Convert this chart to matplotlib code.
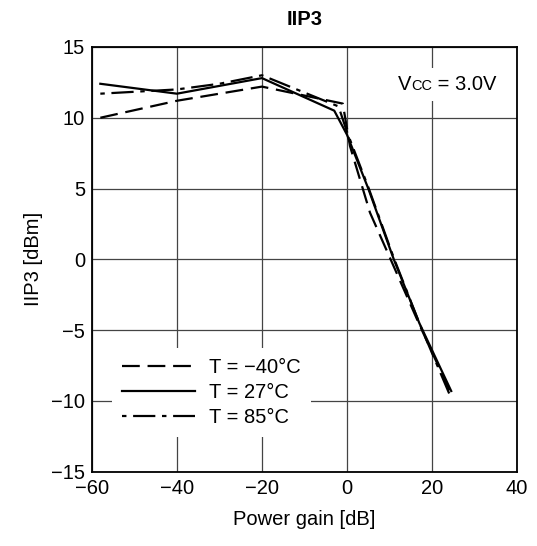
import matplotlib
import matplotlib.pyplot as plt
from matplotlib.offsetbox import TextArea, HPacker, AnchoredOffsetbox

matplotlib.use("Agg")

plt.rcParams["font.family"] = ["Liberation Sans", "DejaVu Sans"]
plt.rcParams["axes.unicode_minus"] = True

# 読み取った値
gain_m40 = [-58, -40, -20, -1, 0.7, 5.4, 10.4, 17, 24.8]
iip3_m40 = [10.0, 11.2, 12.2, 11.0, 8.0, 3.3, -0.1, -4.6, -9.7]

gain_27 = [-58, -40, -20, -3, 0, 5, 11, 17, 24.5]
iip3_27 = [12.4, 11.7, 12.8, 10.5, 8.8, 5.0, 0.0, -4.5, -9.3]

gain_85 = [-58, -40, -30, -20, -2, 0, 5, 11, 17, 24.2]
iip3_85 = [11.7, 12.0, 12.4, 13.0, 10.8, 9.0, 5.1, 0.1, -4.5, -9.6]

xticks = [-60, -40, -20, 0, 20, 40]
yticks = [-15, -10, -5, 0, 5, 10, 15]

FS = 14.5

fig = plt.figure(figsize=(5.37, 5.46), dpi=100)
ax = fig.add_axes([0.171, 0.136, 0.792, 0.778])

ax.plot(gain_m40, iip3_m40, color="black", lw=1.6, ls=(0, (8, 3.5)), label="T = \u221240\u00b0C")
ax.plot(gain_27, iip3_27, color="black", lw=1.6, ls="-", label="T = 27\u00b0C")
ax.plot(gain_85, iip3_85, color="black", lw=1.6, ls=(0, (2, 3, 10, 3)), label="T = 85\u00b0C")

ax.set_xlim(-60, 40)
ax.set_ylim(-15, 15)
ax.set_xticks(xticks)
ax.set_yticks(yticks)
ax.tick_params(length=0, labelsize=FS, pad=5)
ax.grid(True, color="#444444", lw=0.9)
ax.set_axisbelow(True)
for s in ax.spines.values():
    s.set_linewidth(1.3)

ax.set_title("IIP3", fontsize=FS, fontweight="bold", pad=16)
ax.set_xlabel("Power gain [dB]", fontsize=FS, labelpad=9)
ax.set_ylabel("IIP3 [dBm]", fontsize=FS, labelpad=6)

# Vcc ラベル（CC は小さめ）
parts = [TextArea("V", textprops=dict(fontsize=FS)),
         TextArea("CC", textprops=dict(fontsize=FS * 0.72)),
         TextArea(" = 3.0V", textprops=dict(fontsize=FS))]
box = HPacker(children=parts, align="baseline", pad=0, sep=0)
anch = AnchoredOffsetbox(loc="center", child=box, pad=0.5, frameon=True,
                         bbox_to_anchor=(0.835, 0.912), bbox_transform=ax.transAxes,
                         borderpad=0)
anch.patch.set_edgecolor("none")
anch.patch.set_facecolor("white")
ax.add_artist(anch)

leg = ax.legend(loc="lower left", bbox_to_anchor=(0.024, 0.058), frameon=True,
                fontsize=FS, handlelength=3.6, handletextpad=0.7,
                labelspacing=0.3, borderpad=0.5, fancybox=False)
leg.get_frame().set_edgecolor("none")
leg.get_frame().set_facecolor("white")
leg.get_frame().set_alpha(1)

fig.savefig("out.png", dpi=100)
